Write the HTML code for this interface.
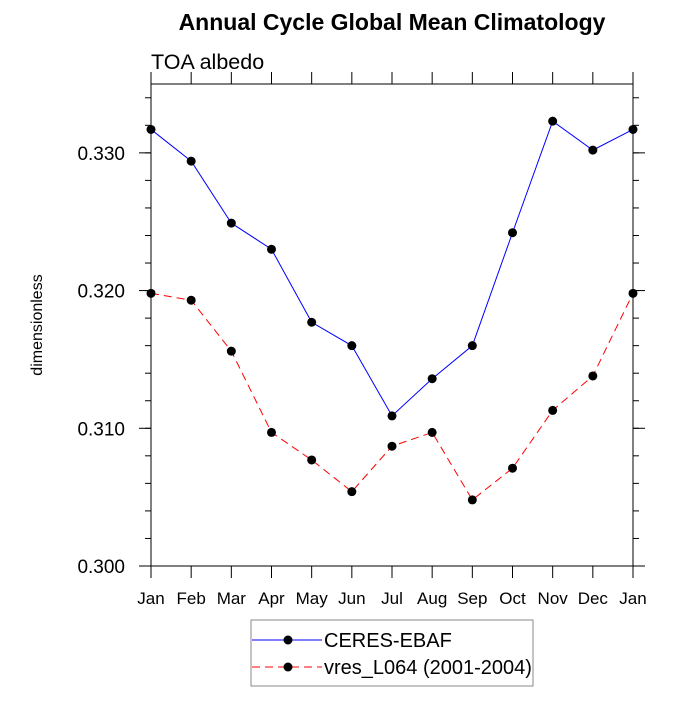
<!DOCTYPE html>
<html><head><meta charset="utf-8"><style>
body{margin:0;background:#fff}
svg text{font-family:"Liberation Sans",sans-serif}
</style></head><body>
<svg id="c" width="700" height="700" xmlns="http://www.w3.org/2000/svg">
<text x="392" y="30" font-size="23" font-weight="bold" text-anchor="middle">Annual Cycle Global Mean Climatology</text>
<text x="151" y="69" font-size="21.5">TOA albedo</text>
<text transform="translate(42,325) rotate(-90)" font-size="16" text-anchor="middle">dimensionless</text>
<rect x="151" y="84" width="482" height="482" fill="none" stroke="#000" stroke-width="1"/>
<g id="axes"></g>
<g id="series"></g>
<g>
<rect x="251" y="620" width="282" height="66" fill="#fff" stroke="#888" stroke-width="1"/>
<line x1="252" y1="640" x2="322" y2="640" stroke="#0000ff" stroke-width="1"/>
<circle cx="288" cy="640" r="4.5" fill="#000"/>
<text x="324" y="647" font-size="20">CERES-EBAF</text>
<line x1="252" y1="667" x2="322" y2="667" stroke="#ff0000" stroke-width="1" stroke-dasharray="8,5"/>
<circle cx="288" cy="667" r="4.5" fill="#000"/>
<text x="324" y="674" font-size="20">vres_L064 (2001-2004)</text>
</g>
</svg>
<script>
const months=["Jan","Feb","Mar","Apr","May","Jun","Jul","Aug","Sep","Oct","Nov","Dec","Jan"];
const ceres=[0.3317,0.3294,0.3249,0.3230,0.3177,0.3160,0.3109,0.3136,0.3160,0.3242,0.3323,0.3302,0.3317];
const model=[0.3198,0.3193,0.3156,0.3097,0.3077,0.3054,0.3087,0.3097,0.3048,0.3071,0.3113,0.3138,0.3198];
const yTicks=[0.300,0.310,0.320,0.330];
const yTickLabels=["0.300","0.310","0.320","0.330"];
const NS="http://www.w3.org/2000/svg";
const L=151,R=633,T=84,B=566,ymin=0.300,ymax=0.335;
function xs(i){return L+(R-L)*i/(months.length-1);}
function ys(v){return B-(v-ymin)/(ymax-ymin)*(B-T);}
function mk(tag,attrs,parent){const e=document.createElementNS(NS,tag);for(const k in attrs)e.setAttribute(k,attrs[k]);parent.appendChild(e);return e;}
const ax=document.getElementById('axes');
months.forEach((m,i)=>{
  const x=xs(i);
  let t=mk('line',{x1:x,y1:B,x2:x,y2:B+12,stroke:'#000'},ax);
  
  
  let t2=mk('line',{x1:x,y1:T,x2:x,y2:T-12,stroke:'#000'},ax);
  
  
  const tx=mk('text',{x:x,y:B+38,'font-size':17,'text-anchor':'middle'},ax);
  tx.textContent=m;
  
  
});
for(let v=ymin;v<=ymax+1e-9;v+=0.002){
  const y=ys(v);
  let a=mk('line',{x1:L-6,y1:y,x2:L,y2:y,stroke:'#000'},ax);
  
  
  let b=mk('line',{x1:R,y1:y,x2:R+6,y2:y,stroke:'#000'},ax);
  
  
}
yTicks.forEach((v,i)=>{
  const y=ys(v);
  let a=mk('line',{x1:L-12,y1:y,x2:L,y2:y,stroke:'#000'},ax);
  
  
  let b=mk('line',{x1:R,y1:y,x2:R+12,y2:y,stroke:'#000'},ax);
  
  
  const tx=mk('text',{x:L-26,y:y+7,'font-size':19,'text-anchor':'end'},ax);
  tx.textContent=yTickLabels[i];
  
  
});
const sg=document.getElementById('series');
function draw(vals,color,dash,name){
  const p=mk('polyline',{points:vals.map((v,i)=>xs(i)+','+ys(v)).join(' '),fill:'none',stroke:color,'stroke-width':1},sg);
  if(dash)p.setAttribute('stroke-dasharray',dash);
  
  
  vals.forEach((v,i)=>{
    const c=mk('circle',{cx:xs(i),cy:ys(v),r:4.5,fill:'#000'},sg);
    
    
  });
}
draw(ceres,'#0000ff',null,'ceres');
draw(model,'#ff0000','8,5','model');
</script>
</body></html>
